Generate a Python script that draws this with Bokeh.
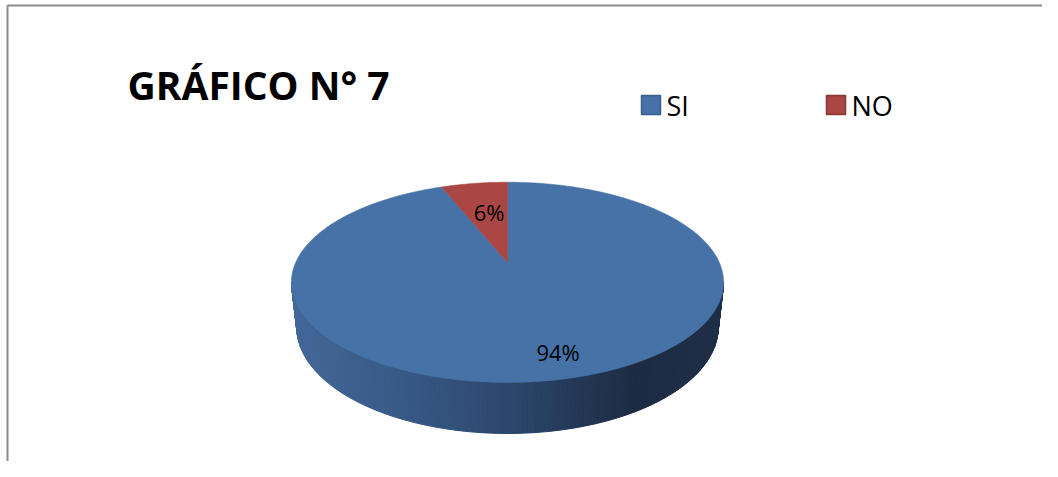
import numpy as np
from bokeh.plotting import figure
from bokeh.models import Range1d
from bokeh.core.properties import value
from bokeh.embed import file_html
from bokeh.resources import INLINE

# ---- data ----
title_text = "GRÁFICO N° 7"
categories = ["SI", "NO"]
percent = [94, 6]
top_colors = ["#4672A8", "#AA4643"]
legend_border = ["#3B5F8D", "#8A3634"]

# ---- layout ----
W, H = 1042, 461
p = figure(width=W, height=H, x_range=Range1d(0, W), y_range=Range1d(H, 0),
           output_backend="svg", toolbar_location=None, min_border=0,
           x_axis_location=None, y_axis_location=None)
p.grid.visible = False
p.outline_line_color = None
p.background_fill_color = "white"
p.border_fill_color = "white"

# frame of the chart area (left and top edges visible)
p.line([7, 7], [H, 5], line_color="#8C8C8C", line_width=2)
p.line([7, W], [5, 5], line_color="#8C8C8C", line_width=2)

# ---- 3D perspective projection of the pie ----
CX, CY = 507.0, 262.0
F, D, TH = 953.0, 4.5, np.radians(27.0)
THICK = 0.239
c, s = np.cos(TH), np.sin(TH)


def proj(X, Y, h=0.0):
    depth = D - Y * c - h * s
    up = -Y * s + h * c
    return CX + F * X / depth, CY - F * up / depth


def rim(phi, r=1.0, h=0.0):
    return proj(r * np.sin(phi), -r * np.cos(phi), h)


total = float(sum(percent))
fracs = np.array(percent) / total
ends = np.cumsum(fracs) * 2 * np.pi
starts = ends - fracs * 2 * np.pi

# side wall (front half) with horizontal gradient
phi_r = np.arccos(-c / D)
phi_l = 2 * np.pi - phi_r
N = 160
phis = np.linspace(phi_r, phi_l, N + 1)
tx, ty = rim(phis)
bx, by = rim(phis, h=-THICK)
xmin, xmax = tx.min(), tx.max()

stops_t = [0.0, 0.25, 0.5, 0.8, 1.0]
stops_c = [(0x42, 0x67, 0x99), (0x37, 0x59, 0x86), (0x2C, 0x47, 0x6D), (0x1C, 0x2B, 0x42), (0x1E, 0x2E, 0x46)]


def grad(t):
    rgb = [np.interp(t, stops_t, [sc[k] for sc in stops_c]) for k in range(3)]
    return "#%02x%02x%02x" % tuple(int(round(v)) for v in rgb)


side_xs, side_ys, side_cols = [], [], []
for i in range(N):
    side_xs.append([tx[i], tx[i + 1], bx[i + 1], bx[i]])
    side_ys.append([ty[i], ty[i + 1], by[i + 1], by[i]])
    t = ((tx[i] + tx[i + 1]) / 2 - xmin) / (xmax - xmin)
    side_cols.append(grad(t))
p.patches(side_xs, side_ys, fill_color=side_cols, line_color=side_cols, line_width=1)

# top face slices
slice_xs, slice_ys = [], []
for a0, a1 in zip(starts, ends):
    ph = np.linspace(a0, a1, max(8, int((a1 - a0) / 0.01)))
    px, py = rim(ph)
    slice_xs.append(np.concatenate([[CX], px]).tolist())
    slice_ys.append(np.concatenate([[CY], py]).tolist())
p.patches(slice_xs, slice_ys, fill_color=top_colors, line_color=top_colors, line_width=0.6)

# data labels
label_r = [0.8, 0.6]
label_dx = [13, 3]
lx, ly, lt = [], [], []
for a0, a1, v, rr, dx in zip(starts, ends, percent, label_r, label_dx):
    mx, my = rim((a0 + a1) / 2, r=rr)
    lx.append(mx + dx)
    ly.append(my)
    lt.append(f"{v}%")
p.text(lx, ly, text=lt, text_align="center", text_baseline="middle",
       text_font=value("Open Sans"), text_font_size="22px", text_color="#000000")

# title
p.text([127], [83.5], text=[title_text], text_align="left", text_baseline="middle",
       text_font=value("Open Sans"), text_font_style="bold", text_font_size="39px",
       text_color="#000000")

# legend
leg_x = [641, 826]
leg_y = 95
box = 19
p.quad(left=leg_x, right=[x + box for x in leg_x], top=[leg_y] * 2, bottom=[leg_y + box] * 2,
       fill_color=top_colors, line_color=legend_border, line_width=1.5)
p.text([x + box + 6 for x in leg_x], [leg_y + box / 2 + 0.5] * 2, text=categories,
       text_align="left", text_baseline="middle",
       text_font=value("Open Sans"), text_font_size="27px", text_color="#000000")

open("out.html", "w").write(file_html(p, INLINE))
